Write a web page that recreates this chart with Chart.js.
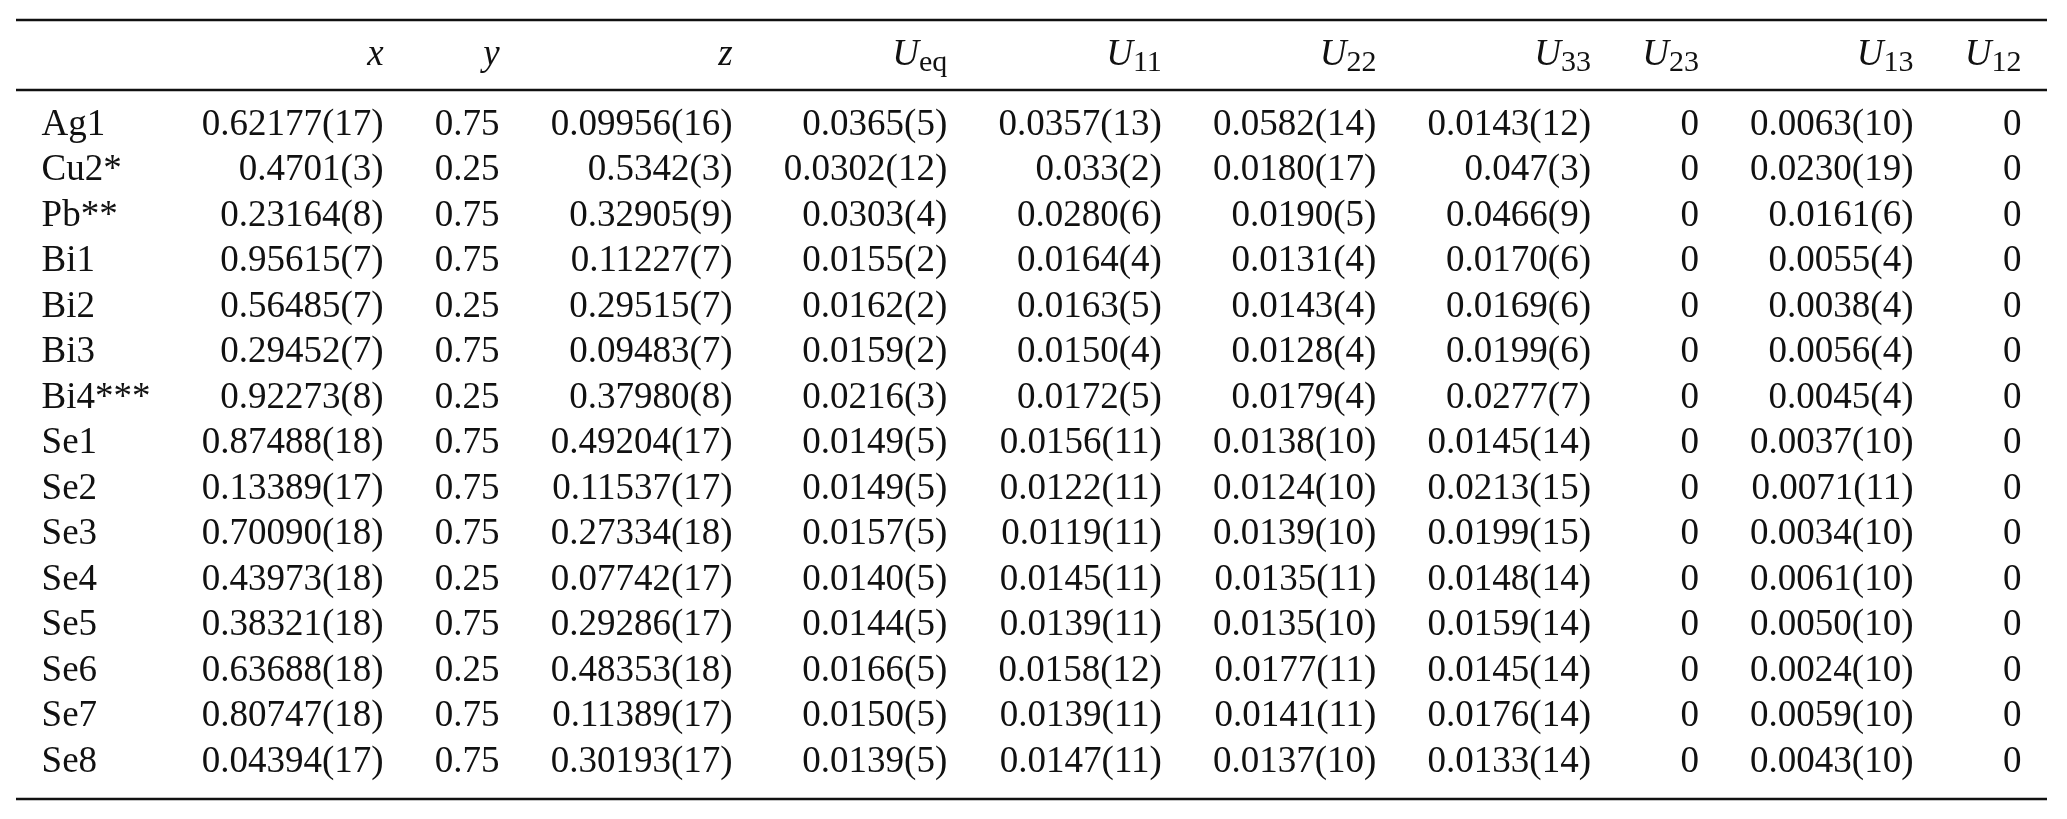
<!DOCTYPE html>
<html>
<head>
<meta charset="utf-8">
<script src="https://cdn.jsdelivr.net/npm/chart.js@4.4.1/dist/chart.umd.min.js"></script>
<style>
  html, body { margin: 0; background: #fff; }
  #wrap { width: 2067px; height: 819px; }
</style>
</head>
<body>
<div id="wrap"><canvas id="tbl"></canvas></div>
<script>
// Atom labels (row names)
const atoms = ['Ag1', 'Cu2*', 'Pb**', 'Bi1', 'Bi2', 'Bi3', 'Bi4***', 'Se1', 'Se2', 'Se3', 'Se4', 'Se5', 'Se6', 'Se7', 'Se8'];

// Column headers: main symbol + subscript
const headMain = ['x', 'y', 'z', 'U', 'U', 'U', 'U', 'U', 'U', 'U'];
const headSub = ['', '', '', 'eq', '11', '22', '33', '23', '13', '12'];

// Column values, one array per column
const colX = ['0.62177(17)', '0.4701(3)', '0.23164(8)', '0.95615(7)', '0.56485(7)', '0.29452(7)', '0.92273(8)', '0.87488(18)', '0.13389(17)', '0.70090(18)', '0.43973(18)', '0.38321(18)', '0.63688(18)', '0.80747(18)', '0.04394(17)'];
const colY = ['0.75', '0.25', '0.75', '0.75', '0.25', '0.75', '0.25', '0.75', '0.75', '0.75', '0.25', '0.75', '0.25', '0.75', '0.75'];
const colZ = ['0.09956(16)', '0.5342(3)', '0.32905(9)', '0.11227(7)', '0.29515(7)', '0.09483(7)', '0.37980(8)', '0.49204(17)', '0.11537(17)', '0.27334(18)', '0.07742(17)', '0.29286(17)', '0.48353(18)', '0.11389(17)', '0.30193(17)'];
const colUeq = ['0.0365(5)', '0.0302(12)', '0.0303(4)', '0.0155(2)', '0.0162(2)', '0.0159(2)', '0.0216(3)', '0.0149(5)', '0.0149(5)', '0.0157(5)', '0.0140(5)', '0.0144(5)', '0.0166(5)', '0.0150(5)', '0.0139(5)'];
const colU11 = ['0.0357(13)', '0.033(2)', '0.0280(6)', '0.0164(4)', '0.0163(5)', '0.0150(4)', '0.0172(5)', '0.0156(11)', '0.0122(11)', '0.0119(11)', '0.0145(11)', '0.0139(11)', '0.0158(12)', '0.0139(11)', '0.0147(11)'];
const colU22 = ['0.0582(14)', '0.0180(17)', '0.0190(5)', '0.0131(4)', '0.0143(4)', '0.0128(4)', '0.0179(4)', '0.0138(10)', '0.0124(10)', '0.0139(10)', '0.0135(11)', '0.0135(10)', '0.0177(11)', '0.0141(11)', '0.0137(10)'];
const colU33 = ['0.0143(12)', '0.047(3)', '0.0466(9)', '0.0170(6)', '0.0169(6)', '0.0199(6)', '0.0277(7)', '0.0145(14)', '0.0213(15)', '0.0199(15)', '0.0148(14)', '0.0159(14)', '0.0145(14)', '0.0176(14)', '0.0133(14)'];
const colU23 = ['0', '0', '0', '0', '0', '0', '0', '0', '0', '0', '0', '0', '0', '0', '0'];
const colU13 = ['0.0063(10)', '0.0230(19)', '0.0161(6)', '0.0055(4)', '0.0038(4)', '0.0056(4)', '0.0045(4)', '0.0037(10)', '0.0071(11)', '0.0034(10)', '0.0061(10)', '0.0050(10)', '0.0024(10)', '0.0059(10)', '0.0043(10)'];
const colU12 = ['0', '0', '0', '0', '0', '0', '0', '0', '0', '0', '0', '0', '0', '0', '0'];

const columns = [colX, colY, colZ, colUeq, colU11, colU22, colU33, colU23, colU13, colU12];

// look
const FAMILY = '"Liberation Serif", "Times New Roman", serif';
const SIZE = 37;
const SUB = 30;
const INK = '#111';
const font = SIZE + 'px ' + FAMILY;
const italic = 'italic ' + SIZE + 'px ' + FAMILY;
const subFont = SUB + 'px ' + FAMILY;

// measure text to lay out columns (like a typeset tabular)
const mctx = document.createElement('canvas').getContext('2d');
function textW(s, f) { mctx.font = f; return mctx.measureText(s).width; }
function headW(j) { return textW(headMain[j], italic) + (headSub[j] ? textW(headSub[j], subFont) : 0); }

const TABLE_W = 2031;
const labelW = Math.max(...atoms.map(a => textW(a, font)));
const colW = columns.map((col, j) => Math.max(headW(j), ...col.map(v => textW(v, font))));
const gap = (TABLE_W - labelW - colW.reduce((a, b) => a + b, 0)) / (columns.length + 1);
const labelLeft = gap / 2;
const colRight = [];
let edge = labelLeft + labelW;
colW.forEach(w => { edge += gap + w; colRight.push(edge); });

// vertical positions in row units (row i sits at value i)
const HEAD_ROW = -1.54;
const MID_RULE = -0.77;
const Y_MIN = -2.31, Y_MAX = 14.81;

const tablePlugin = {
  id: 'tablePlugin',
  afterDatasetsDraw(chart) {
    const { ctx, chartArea, scales } = chart;
    ctx.save();
    ctx.fillStyle = INK;
    ctx.textBaseline = 'middle';

    // body cells from dataset elements
    chart.data.datasets.forEach((ds, d) => {
      const meta = chart.getDatasetMeta(d);
      ctx.font = font;
      ctx.textAlign = ds.align;
      meta.data.forEach((pt, i) => ctx.fillText(ds.texts[i], pt.x, pt.y));
    });

    // header
    const hy = scales.y.getPixelForValue(HEAD_ROW);
    columns.forEach((col, j) => {
      const right = scales.x.getPixelForValue(colRight[j]);
      let x = right - headW(j);
      ctx.textAlign = 'left';
      ctx.font = italic;
      ctx.fillText(headMain[j], x, hy);
      if (headSub[j]) {
        x += textW(headMain[j], italic);
        ctx.font = subFont;
        ctx.fillText(headSub[j], x, hy + 8);
      }
    });

    // rules
    ctx.strokeStyle = INK;
    ctx.lineWidth = 2.5;
    [Y_MIN, MID_RULE, Y_MAX].forEach(v => {
      const y = Math.round(scales.y.getPixelForValue(v));
      ctx.beginPath();
      ctx.moveTo(chartArea.left, y);
      ctx.lineTo(chartArea.right, y);
      ctx.stroke();
    });
    ctx.restore();
  }
};

const datasets = [{
  label: 'atom',
  data: atoms.map((a, i) => ({ x: labelLeft, y: i })),
  texts: atoms,
  align: 'left',
  pointRadius: 0
}].concat(columns.map((col, j) => ({
  label: headMain[j] + headSub[j],
  data: col.map((v, i) => ({ x: colRight[j], y: i })),
  texts: col,
  align: 'right',
  pointRadius: 0
})));

new Chart(document.getElementById('tbl'), {
  type: 'scatter',
  data: { datasets: datasets },
  options: {
    responsive: true,
    maintainAspectRatio: false,
    animation: false,
    layout: { padding: { left: 16, right: 20, top: 20, bottom: 20 } },
    plugins: { legend: { display: false }, tooltip: { enabled: false } },
    scales: {
      x: { type: 'linear', display: false, min: 0, max: TABLE_W },
      y: { type: 'linear', display: false, reverse: true, min: Y_MIN, max: Y_MAX }
    }
  },
  plugins: [tablePlugin]
});
</script>
</body>
</html>
